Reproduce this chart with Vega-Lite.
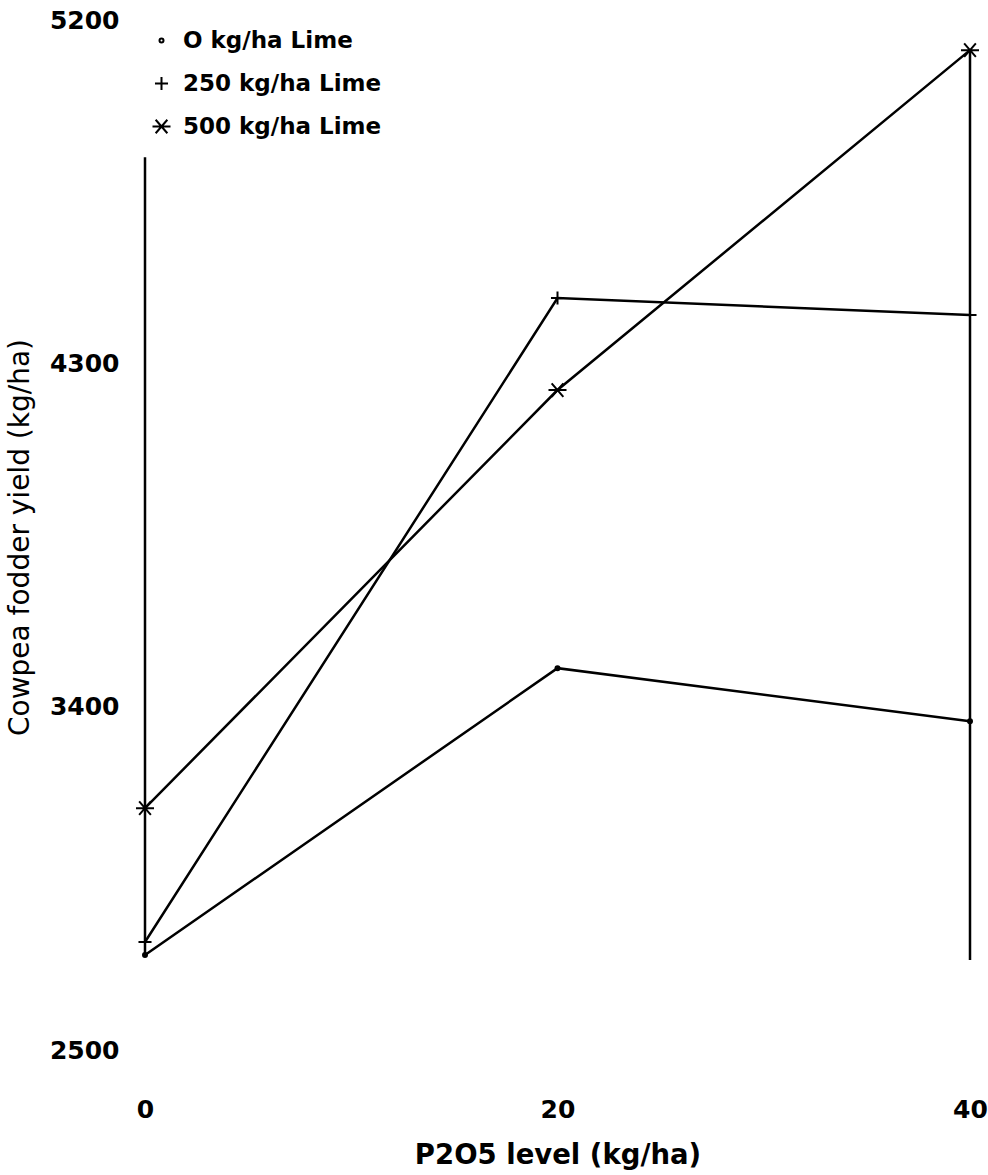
{
  "$schema": "https://vega.github.io/schema/vega-lite/v6.json",
  "width": 825,
  "height": 1030,
  "autosize": {"type": "none"},
  "padding": {"left": 145, "top": 20, "right": 18, "bottom": 125},
  "background": "white",
  "config": {
    "view": {"stroke": null},
    "font": "DejaVu Sans",
    "axis": {"grid": false, "ticks": false, "domain": false, "tickSize": 0, "labelColor": "black", "titleColor": "black", "labelFont": "DejaVu Sans", "titleFont": "DejaVu Sans"}
  },
  "datasets": {
    "yield": [
      {"p2o5": 0, "lime": "O kg/ha Lime", "yield": 2749},
      {"p2o5": 20, "lime": "O kg/ha Lime", "yield": 3501},
      {"p2o5": 40, "lime": "O kg/ha Lime", "yield": 3362},
      {"p2o5": 0, "lime": "250 kg/ha Lime", "yield": 2783},
      {"p2o5": 20, "lime": "250 kg/ha Lime", "yield": 4471},
      {"p2o5": 40, "lime": "250 kg/ha Lime", "yield": 4427},
      {"p2o5": 0, "lime": "500 kg/ha Lime", "yield": 3134},
      {"p2o5": 20, "lime": "500 kg/ha Lime", "yield": 4230},
      {"p2o5": 40, "lime": "500 kg/ha Lime", "yield": 5121}
    ],
    "verticals": [
      {"p2o5": 0, "low": 2745, "high": 4840},
      {"p2o5": 40, "low": 2736, "high": 5121}
    ]
  },
  "layer": [
    {
      "data": {"name": "verticals"},
      "mark": {"type": "rule", "color": "black", "strokeWidth": 2.5},
      "encoding": {
        "x": {"field": "p2o5", "type": "quantitative", "scale": {"domain": [0, 40], "nice": false, "zero": false},
          "axis": {"title": "P2O5 level (kg/ha)", "values": [0, 20, 40], "format": "d", "labelFontSize": 25, "labelFontWeight": "bold", "labelPadding": 47, "labelFlush": false, "labelOverlap": false, "titleFontSize": 27.5, "titleFontWeight": "bold", "titleY": 91, "titleBaseline": "top"}},
        "y": {"field": "low", "type": "quantitative", "scale": {"domain": [2500, 5200], "nice": false, "zero": false},
          "axis": {"title": "Cowpea fodder yield (kg/ha)", "values": [2500, 3400, 4300, 5200], "format": "d", "labelFontSize": 25, "labelFontWeight": "bold", "labelPadding": 26, "labelOverlap": false, "labelFlush": false, "titleFontSize": 28, "titleFontWeight": "normal", "titleX": -125, "titleY": 517, "titleBaseline": "middle", "titleAngle": -90}},
        "y2": {"field": "high"}
      }
    },
    {
      "data": {"name": "yield"},
      "mark": {"type": "line", "color": "black", "strokeWidth": 2.5},
      "encoding": {
        "x": {"field": "p2o5", "type": "quantitative"},
        "y": {"field": "yield", "type": "quantitative"},
        "detail": {"field": "lime", "type": "nominal"}
      }
    },
    {
      "data": {"name": "yield"},
      "mark": {"type": "point", "filled": false, "color": "black", "strokeWidth": 2, "opacity": 1},
      "encoding": {
        "x": {"field": "p2o5", "type": "quantitative"},
        "y": {"field": "yield", "type": "quantitative"},
        "shape": {"field": "lime", "type": "nominal",
          "scale": {"domain": ["O kg/ha Lime", "250 kg/ha Lime", "500 kg/ha Lime"],
            "range": ["circle", "M-1,0L1,0M0,-1L0,1", "M-1,0L1,0M-0.65,-0.75L0.65,0.75M-0.65,0.75L0.65,-0.75"]},
          "legend": {"orient": "none", "legendX": 5, "legendY": 9, "title": null, "labelFontSize": 23, "labelFontWeight": "bold", "labelFont": "DejaVu Sans", "labelColor": "black", "labelLimit": 0, "rowPadding": 19, "labelOffset": 10, "symbolStrokeColor": "black", "symbolStrokeWidth": 2}},
        "size": {"field": "lime", "type": "nominal",
          "scale": {"domain": ["O kg/ha Lime", "250 kg/ha Lime", "500 kg/ha Lime"], "range": [16, 324, 324]},
          "legend": {"orient": "none", "legendX": 5, "legendY": 9, "title": null, "labelFontSize": 23, "labelFontWeight": "bold", "labelFont": "DejaVu Sans", "labelColor": "black", "labelLimit": 0, "rowPadding": 19, "labelOffset": 10, "symbolStrokeColor": "black", "symbolStrokeWidth": 2}}
      }
    }
  ]
}
